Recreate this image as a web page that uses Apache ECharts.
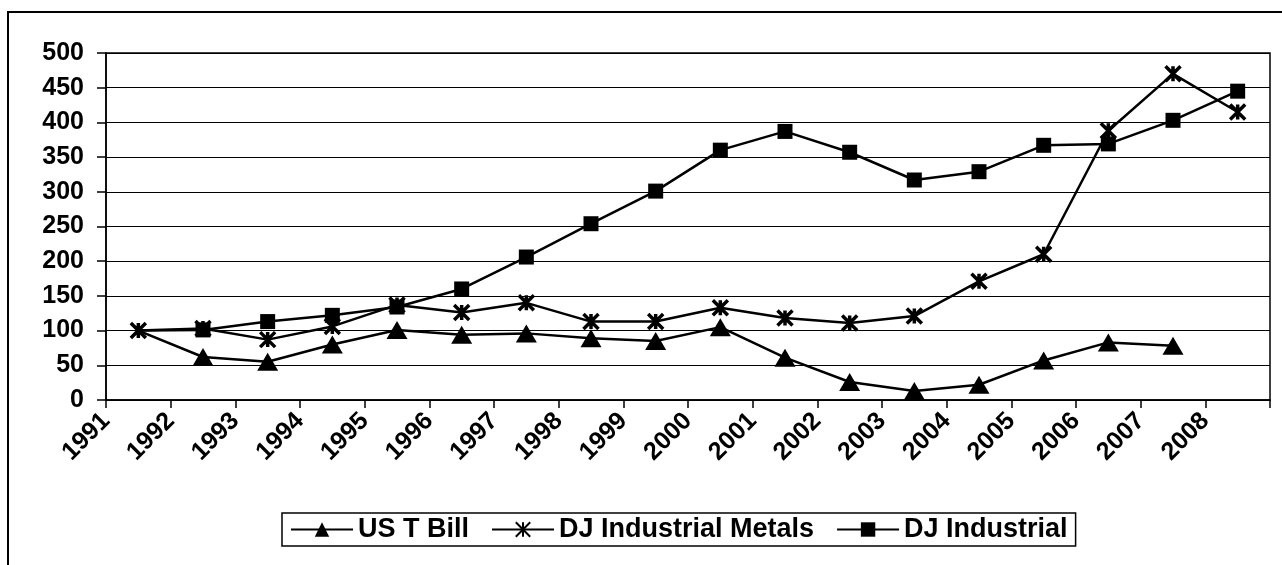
<!DOCTYPE html>
<html>
<head>
<meta charset="utf-8">
<script src="https://cdn.jsdelivr.net/npm/echarts@6/dist/echarts.min.js"></script>
<style>
  html, body { margin: 0; padding: 0; background: #fff; }
  #main { width: 1282px; height: 565px; }
</style>
</head>
<body>
<div id="main"></div>
<script>
// data (index, 1991 = 100)
var years = ['1991', '1992', '1993', '1994', '1995', '1996', '1997', '1998', '1999',
             '2000', '2001', '2002', '2003', '2004', '2005', '2006', '2007', '2008'];
var tBill  = [100, 62, 55, 80, 101, 94, 96, 89, 85, 105, 61, 26, 13, 22, 57, 83, 78, null];
var metals = [100, 103, 87, 106, 137, 126, 140, 113, 113, 133, 118, 111, 121, 171, 210, 388, 470, 415];
var djInd  = [100, 101, 113, 122, 134, 160, 206, 254, 301, 360, 387, 357, 317, 329, 367, 369, 403, 445];

var ink = '#000';
var font = '"Liberation Sans", Arial, sans-serif';

// 1991 is the common base point, only the star marker shows there
function hideFirst(arr) {
    return arr.map(function (v, i) {
        return i === 0 ? { value: v, symbol: 'none' } : v;
    });
}

var chart = echarts.init(document.getElementById('main'));

var option = {
    backgroundColor: '#fff',
    animation: false,
    textStyle: { fontFamily: font, color: ink },
    graphic: [{
        type: 'rect',
        silent: true,
        z: -10,
        shape: { x: 8, y: 12, width: 1290, height: 570 },
        style: { fill: 'none', stroke: ink, lineWidth: 2 }
    }],
    grid: {
        left: 106, right: 12, top: 53, bottom: 165,
        show: true, borderColor: ink, borderWidth: 1.5,
        outerBoundsMode: 'none'
    },
    legend: {
        left: 282, top: 513,
        padding: [3, 8],
        itemWidth: 62, itemHeight: 18, itemGap: 22,
        borderColor: ink, borderWidth: 1.5,
        textStyle: { fontSize: 27, fontWeight: 'bold', color: ink, fontFamily: font },
        data: ['US T Bill', 'DJ Industrial Metals', 'DJ Industrial']
    },
    xAxis: [{
        // carries the data points (between tick marks)
        type: 'category',
        data: years,
        boundaryGap: true,
        show: false
    }, {
        // carries ticks and labels at the band edges, like the original
        type: 'category',
        data: years.concat(['']),
        boundaryGap: false,
        position: 'bottom',
        axisLine: { lineStyle: { color: ink, width: 1.5 } },
        axisTick: { interval: 0, length: 8, lineStyle: { color: ink, width: 1.5 } },
        axisLabel: {
            interval: 0, rotate: 45, margin: 17,
            fontSize: 25, fontWeight: 'bold', color: ink, fontFamily: font
        },
        splitLine: { show: false }
    }],
    yAxis: {
        type: 'value',
        min: 0, max: 500, interval: 50,
        axisLine: { show: true, lineStyle: { color: ink, width: 1.5 } },
        axisTick: { show: true, length: 9, lineStyle: { color: ink, width: 1.5 } },
        axisLabel: {
            margin: 22, fontSize: 25, fontWeight: 'bold', color: ink, fontFamily: font
        },
        splitLine: { lineStyle: { color: ink, width: 1 } }
    },
    series: [{
        name: 'US T Bill',
        type: 'line',
        showAllSymbol: true,
        symbol: 'triangle',
        symbolSize: [21, 18],
        lineStyle: { color: ink, width: 2.5 },
        itemStyle: { color: ink },
        data: hideFirst(tBill)
    }, {
        name: 'DJ Industrial Metals',
        type: 'line',
        showAllSymbol: true,
        symbol: 'path://M0,0L10,10M10,0L0,10M5,0L5,10',
        symbolSize: 15,
        lineStyle: { color: ink, width: 2.5 },
        itemStyle: { color: ink, borderColor: ink, borderWidth: 3.5 },
        data: metals
    }, {
        name: 'DJ Industrial',
        type: 'line',
        showAllSymbol: true,
        symbol: 'rect',
        symbolSize: 15,
        lineStyle: { color: ink, width: 2.5 },
        itemStyle: { color: ink },
        data: hideFirst(djInd)
    }]
};

chart.setOption(option);
</script>
</body>
</html>
